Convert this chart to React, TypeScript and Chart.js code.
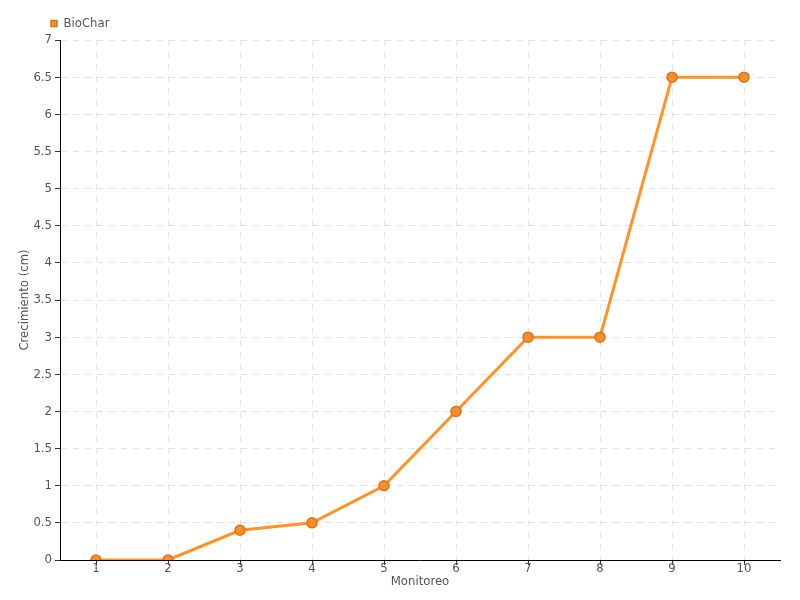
import React, { useEffect, useRef } from "react";
import { Chart, registerables } from "chart.js";

Chart.register(...registerables);

const categories = ["1", "2", "3", "4", "5", "6", "7", "8", "9", "10"];
const seriesName = "BioChar";
const biocharValues = [0, 0, 0.4, 0.5, 1, 2, 3, 3, 6.5, 6.5];
const yTitle = "Crecimiento (cm)";
const xTitle = "Monitoreo";

const FONT = "'DejaVu Sans Condensed', 'Roboto', sans-serif";
const FS = 13;

const legendShift = {
  id: "legendShift",
  afterLayout(chart: any) {
    if (chart.legend) chart.legend.left = 45;
  },
};

export default function App() {
  const ref = useRef<HTMLCanvasElement | null>(null);
  useEffect(() => {
    if (!ref.current) return;
    const chart = new Chart(ref.current, {
      type: "line",
      data: {
        labels: categories,
        datasets: [
          {
            label: seriesName,
            data: biocharValues,
            borderColor: "#ff9326",
            backgroundColor: "#ff9326",
            borderWidth: 3,
            pointRadius: 5,
            pointBorderWidth: 1.5,
            pointBackgroundColor: "#f7902c",
            pointBorderColor: "#d8741a",
            tension: 0,
          },
        ],
      },
      plugins: [legendShift],
      options: {
        animation: false,
        responsive: false,
        layout: { padding: { left: 0, right: 20, top: 11, bottom: 0 } },
        plugins: {
          legend: {
            align: "start",
            labels: {
              usePointStyle: true,
              pointStyle: "rect",
              boxWidth: 6,
              boxHeight: 6,
              padding: 6,
              color: "#555",
              font: { family: FONT, size: 13 },
            },
          },
          tooltip: { enabled: false },
        },
        scales: {
          x: {
            offset: true,
            title: { display: true, text: xTitle, color: "#555", font: { family: FONT, size: FS }, padding: { top: 0, bottom: 11 } },
            ticks: { color: "#555", font: { family: FONT, size: FS }, padding: -4 },
            grid: { offset: false, color: "#e3e3e3", tickColor: "#333", tickLength: 5, tickBorderDash: [] },
            border: { color: "#000", width: 1, dash: [6, 6] },
            afterFit: (s: any) => { s.height = 40; },
          },
          y: {
            min: 0,
            max: 7,
            ticks: {
              stepSize: 0.5,
              color: "#555",
              font: { family: FONT, size: FS },
              padding: 3,
              callback: (v: any) => String(Number(v)),
            },
            title: { display: true, text: yTitle, color: "#555", font: { family: FONT, size: FS }, padding: { top: 17, bottom: 0 } },
            grid: { color: "#e3e3e3", tickColor: "#333", tickLength: 5, tickBorderDash: [] },
            border: { color: "#000", width: 1, dash: [6, 6] },
            afterFit: (s: any) => { s.width = 60; },
          },
        },
      },
    });
    return () => chart.destroy();
  }, []);
  return (
    <div style={{ position: "fixed", left: 0, top: 0, width: 800, height: 600, background: "#fff" }}>
      <canvas ref={ref} width={800} height={600} />
    </div>
  );
}
